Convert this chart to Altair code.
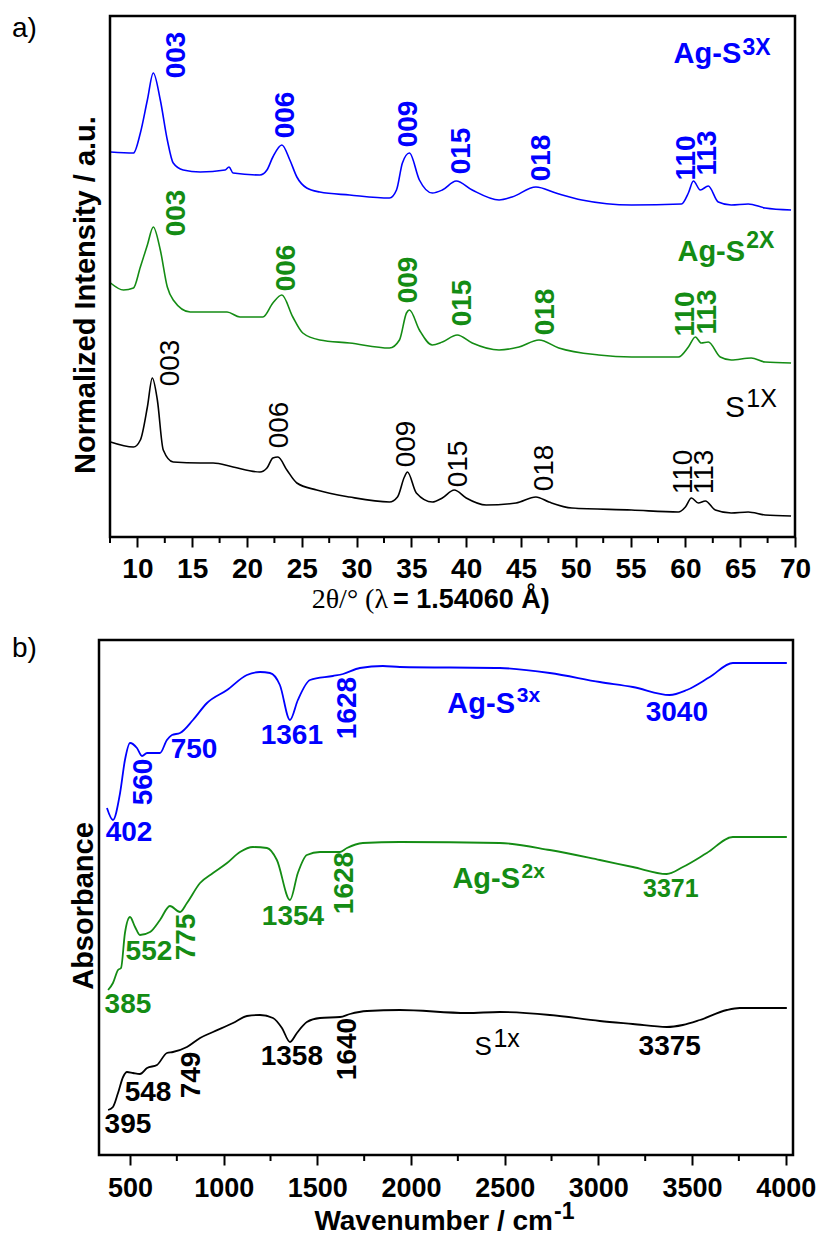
import altair as alt
import pandas as pd

# ---------------- colours / fonts ----------------
BLUE = "#0000ff"
GREEN = "#148c14"
BLACK = "#000000"
SANS = "Liberation Sans"
SERIF = "Liberation Serif"

# ---------------- panel a: XRD ----------------
XRD_MAJOR = [10, 15, 20, 25, 30, 35, 40, 45, 50, 55, 60, 65, 70]
XRD_MINOR = [7.5, 12.5, 17.5, 22.5, 27.5, 32.5, 37.5, 42.5, 47.5, 52.5, 57.5, 62.5, 67.5]

XRD_3X_2T = [7.55, 9.64, 10.27, 10.91, 11.45, 12.09, 12.73, 13.27, 14.18, 15.73, 18.0, 18.36, 18.73,
             21.18, 21.82, 22.36, 23.18, 23.91, 24.55, 25.45, 26.64, 29.36, 33.0, 33.64, 34.18, 34.82,
             35.73, 36.91, 37.82, 39.09, 40.55, 43.0, 44.18, 46.36, 48.18, 50.55, 55.09, 59.64, 60.27,
             60.73, 61.36, 62.09, 63.0, 64.18, 65.73, 67.27, 69.64]
XRD_3X_I = [385, 384, 404, 437, 464, 437, 397, 374, 367, 365, 367, 370, 364,
            362, 367, 380, 392, 377, 360, 349, 345, 342, 339, 347, 374, 384,
            357, 344, 347, 356, 347, 337, 340, 350, 344, 337, 332, 333, 344,
            356, 347, 351, 335, 332, 333, 329, 327]

XRD_2X_2T = [7.55, 8.73, 9.64, 10.27, 10.91, 11.45, 12.09, 12.73, 13.27, 14.82, 18.18, 19.36, 21.45,
             22.36, 23.18, 24.18, 25.09, 26.64, 29.36, 33.0, 33.91, 34.55, 34.82, 35.73, 36.91, 37.82,
             39.18, 40.55, 43.0, 44.82, 46.64, 48.45, 52.09, 55.09, 59.36, 60.27, 60.91, 61.45, 62.09,
             63.18, 64.18, 66.0, 67.27, 69.64]
XRD_2X_I = [254, 247, 249, 270, 292, 310, 287, 250, 237, 225, 225, 220, 220,
            234, 242, 220, 204, 197, 194, 189, 197, 224, 227, 207, 192, 195,
            202, 194, 187, 190, 197, 189, 182, 180, 180, 190, 200, 194, 195,
            180, 177, 179, 175, 174]

XRD_1X_2T = [7.55, 9.64, 10.27, 10.91, 11.36, 11.82, 12.36, 13.27, 15.73, 16.91, 18.73, 21.18, 21.82,
             22.36, 22.82, 23.64, 24.55, 26.36, 29.36, 33.0, 33.73, 34.36, 34.64, 35.45, 36.91, 37.82,
             38.91, 40.0, 41.82, 44.55, 46.36, 47.55, 49.64, 55.09, 59.36, 60.0, 60.55, 61.18, 61.82,
             62.73, 64.18, 65.73, 67.27, 69.64]
XRD_1X_I = [95, 90, 97, 130, 159, 137, 87, 75, 74, 74, 70, 65, 69,
            79, 80, 67, 54, 47, 40, 35, 40, 60, 65, 44, 35, 39,
            47, 39, 32, 34, 40, 35, 29, 27, 25, 30, 39, 34, 36,
            27, 24, 25, 22, 21]

HKL = ["003", "006", "009", "015", "018", "110", "113"]
HKL_3X_2T = [13.64, 23.55, 34.82, 39.64, 46.91, 60.18, 62.09]
HKL_3X_I = [482, 422, 413, 386, 379, 379, 384]
HKL_2X_2T = [13.64, 23.64, 34.82, 39.73, 47.27, 60.09, 62.09]
HKL_2X_I = [324, 269, 257, 234, 225, 223, 225]
HKL_1X_2T = [13.09, 23.0, 34.64, 39.36, 47.18, 59.91, 61.82]
HKL_1X_I = [174, 112, 93, 73, 69, 65, 65]

# sample names (main part, superscript)
XRD_NAME_MAIN = ["Ag-S", "Ag-S"]
XRD_NAME_MAIN_2T = [65.1, 65.45]
XRD_NAME_MAIN_I = [474, 276]
XRD_NAME_SUP = ["3X", "2X"]
XRD_NAME_SUP_2T = [65.2, 65.55]
XRD_NAME_SUP_I = [482, 289]
XRD_S1_MAIN, XRD_S1_MAIN_2T, XRD_S1_MAIN_I = "S", 65.45, 120
XRD_S1_SUP, XRD_S1_SUP_2T, XRD_S1_SUP_I = "1X", 65.55, 130

# ---------------- panel b: FTIR ----------------
FTIR_MAJOR = [500, 1000, 1500, 2000, 2500, 3000, 3500, 4000]
FTIR_MINOR = [750, 1250, 1750, 2250, 2750, 3250, 3750]

FTIR_3X_WN = [377, 409, 447, 473, 500, 537, 564, 591, 660, 697, 724, 767, 836, 911, 1018, 1124, 1194,
              1247, 1300, 1354, 1396, 1461, 1583, 1637, 1727, 1850, 1941, 2474, 2741, 3008, 3184,
              3381, 3472, 3595, 3718, 4006]
FTIR_3X_A = [347, 335, 362, 395, 412, 407, 399, 402, 402, 415, 420, 422, 435, 452, 465, 480, 483,
             482, 470, 435, 455, 475, 479, 481, 487, 489, 488, 487, 482, 473, 468,
             460, 465, 478, 492, 492]

FTIR_2X_WN = [383, 409, 436, 452, 473, 500, 527, 553, 607, 660, 713, 767, 804, 874, 943, 1018, 1087,
              1156, 1231, 1284, 1354, 1396, 1444, 1514, 1621, 1658, 1743, 1941, 2474, 2741, 3008,
              3184, 3365, 3451, 3579, 3718, 4006]
FTIR_2X_A = [165, 172, 185, 187, 222, 238, 228, 220, 223, 235, 249, 243, 252, 272, 282, 292, 303,
             308, 307, 295, 255, 282, 300, 303, 303, 307, 312, 313, 312, 305, 295,
             288, 281, 288, 302, 318, 318]

FTIR_1X_WN = [383, 409, 436, 463, 484, 516, 553, 591, 644, 697, 729, 804, 874, 943, 1050, 1124, 1194,
              1263, 1311, 1354, 1391, 1444, 1514, 1621, 1674, 1765, 1941, 2298, 2474, 2741, 3008,
              3184, 3365, 3451, 3542, 3686, 3755, 4006]
FTIR_1X_A = [45, 48, 62, 78, 83, 82, 81, 87, 90, 102, 103, 108, 117, 123, 132, 139, 140,
             137, 127, 113, 122, 133, 137, 138, 141, 144, 145, 142, 143, 140, 134,
             131, 128, 130, 135, 145, 147, 147]

BAND_TEXT = ["402", "560", "750", "1361", "1628", "3040",
             "385", "552", "775", "1354", "1628", "3371",
             "395", "548", "749", "1358", "1640", "3375"]
BAND_WN = [495, 575, 842, 1364, 1663, 3419,
           489, 601, 804, 1370, 1647, 3387,
           489, 596, 831, 1364, 1663, 3381]
BAND_A = [322, 373, 405, 419, 447, 442,
          150, 203, 218, 238, 272, 266,
          30, 62, 80, 98, 106, 108]
BAND_ANGLE = [0, 270, 0, 0, 270, 0,
              0, 0, 270, 0, 270, 0,
              0, 0, 270, 0, 270, 0]
BAND_SIZE = [28, 28, 28, 28, 28, 28,
             28, 28, 28, 28, 28, 25,
             28, 28, 28, 28, 28, 28]
BAND_COLOR = [BLUE] * 6 + [GREEN] * 6 + [BLACK] * 6

FTIR_NAME_MAIN = ["Ag-S", "Ag-S"]
FTIR_NAME_MAIN_WN = [2555, 2582]
FTIR_NAME_MAIN_A = [442, 267]
FTIR_NAME_SUP = ["3x", "2x"]
FTIR_NAME_SUP_WN = [2565, 2590]
FTIR_NAME_SUP_A = [453, 277]
FTIR_S1_MAIN, FTIR_S1_MAIN_WN, FTIR_S1_MAIN_A = "S", 2432, 100
FTIR_S1_SUP, FTIR_S1_SUP_WN, FTIR_S1_SUP_A = "1x", 2440, 108

# ---------------- geometry ----------------
WA, HA = 685, 521
WB, HB = 683, 515


def curves(names, xs_list, ys_list, colors):
    rows = []
    for n, xs, ys, c in zip(names, xs_list, ys_list, colors):
        for x, y in zip(xs, ys):
            rows.append({"series": n, "x": x, "y": y, "color": c})
    return pd.DataFrame(rows)


def table(texts, xs, ys, colors, **extra):
    d = {"text": texts, "x": xs, "y": ys, "color": colors}
    d.update(extra)
    return pd.DataFrame(d)


def make_x(domain, values, pad, fs):
    return alt.X("x:Q", scale=alt.Scale(domain=domain, nice=False, zero=False),
                 axis=alt.Axis(values=values, title=None, grid=False, domain=False,
                               tickSize=10, tickWidth=2, tickColor="black",
                               labelFont=SANS, labelFontSize=fs, labelFontWeight="bold",
                               labelColor="black", labelPadding=pad, labelFlush=False,
                               labelOverlap=False, format="d"))


def make_y(domain):
    return alt.Y("y:Q", scale=alt.Scale(domain=domain, nice=False, zero=False), axis=None)


label_y = {"a)": 21, "b)": 17}


def panel(xd, major, minor, pad, fs, yd, W, H, frame_x, line_df, line_w, text_layers,
          label, ytitle, ytitle_pos, xtitle_marks):
    X = make_x(xd, major, pad, fs)
    Y = make_y(yd)
    one = alt.Data(values=[{"k": 1}])
    layers = []
    layers.append(alt.Chart(line_df).mark_line(strokeWidth=line_w, interpolate="monotone").encode(
        x=X, y=Y, color=alt.Color("color:N", scale=None), detail="series:N"))
    layers.append(alt.Chart(pd.DataFrame({"x": minor})).mark_rule(color="black", strokeWidth=2).encode(
        x=X, y=alt.value(H), y2=alt.value(H + 6)))
    for df, kw, extra in text_layers:
        enc = dict(x=X, y=Y, text="text:N", color=alt.Color("color:N", scale=None))
        enc.update(extra)
        layers.append(alt.Chart(df).mark_text(**kw).encode(**enc))
    layers.append(alt.Chart(one).mark_rect(filled=False, color="black", strokeWidth=2.5).encode(
        x=alt.value(frame_x), x2=alt.value(W), y=alt.value(0), y2=alt.value(H)))
    layers.append(alt.Chart(one).mark_text(text=label, font=SANS, fontSize=28, align="left",
                                           baseline="alphabetic", color="black").encode(
        x=alt.value(-98), y=alt.value(label_y[label])))
    layers.append(alt.Chart(one).mark_text(text=ytitle, font=SANS, fontSize=29, fontWeight="bold",
                                           angle=270, align="center", baseline="middle",
                                           color="black").encode(
        x=alt.value(ytitle_pos[0]), y=alt.value(ytitle_pos[1])))
    for txt, kw, px, py in xtitle_marks:
        layers.append(alt.Chart(one).mark_text(text=txt, color="black", baseline="alphabetic", **kw).encode(
            x=alt.value(px), y=alt.value(py)))
    return alt.layer(*layers).properties(width=W, height=H)


# ----- panel a -----
xrd_lines = curves(["3X", "2X", "1X"], [XRD_3X_2T, XRD_2X_2T, XRD_1X_2T],
                   [XRD_3X_I, XRD_2X_I, XRD_1X_I], [BLUE, GREEN, BLACK])
hkl_bold = table(HKL + HKL, HKL_3X_2T + HKL_2X_2T, HKL_3X_I + HKL_2X_I, [BLUE] * 7 + [GREEN] * 7)
hkl_norm = table(HKL, HKL_1X_2T, HKL_1X_I, [BLACK] * 7)
xrd_main = table(XRD_NAME_MAIN, XRD_NAME_MAIN_2T, XRD_NAME_MAIN_I, [BLUE, GREEN])
xrd_sup = table(XRD_NAME_SUP, XRD_NAME_SUP_2T, XRD_NAME_SUP_I, [BLUE, GREEN])
xrd_s1m = table([XRD_S1_MAIN], [XRD_S1_MAIN_2T], [XRD_S1_MAIN_I], [BLACK])
xrd_s1s = table([XRD_S1_SUP], [XRD_S1_SUP_2T], [XRD_S1_SUP_I], [BLACK])

rot = dict(angle=270, align="center", baseline="middle", font=SANS, fontSize=28)
a_texts = [
    (hkl_bold, dict(rot, fontWeight="bold"), {}),
    (hkl_norm, dict(rot), {}),
    (xrd_main, dict(align="right", baseline="alphabetic", font=SANS, fontSize=29, fontWeight="bold"), {}),
    (xrd_sup, dict(align="left", baseline="alphabetic", font=SANS, fontSize=23, fontWeight="bold"), {}),
    (xrd_s1m, dict(align="right", baseline="alphabetic", font=SANS, fontSize=30), {}),
    (xrd_s1s, dict(align="left", baseline="alphabetic", font=SANS, fontSize=25), {}),
]
panel_a = panel([7.5, 70], XRD_MAJOR, XRD_MINOR, 8, 28, [0, HA], WA, HA, 0, xrd_lines, 1.6, a_texts,
                "a)", "Normalized Intensity / a.u.", (-24, 279),
                [("2θ/° (λ", dict(font=SERIF, fontSize=28, align="right"), 278, 592),
                 ("= 1.54060 Å)", dict(font=SANS, fontSize=27, fontWeight="bold", align="left"), 283, 592)])

# ----- panel b -----
ftir_lines = curves(["3X", "2X", "1X"], [FTIR_3X_WN, FTIR_2X_WN, FTIR_1X_WN],
                    [FTIR_3X_A, FTIR_2X_A, FTIR_1X_A], [BLUE, GREEN, BLACK])
bands = table(BAND_TEXT, BAND_WN, BAND_A, BAND_COLOR, ang=BAND_ANGLE, fs=BAND_SIZE)
ftir_main = table(FTIR_NAME_MAIN, FTIR_NAME_MAIN_WN, FTIR_NAME_MAIN_A, [BLUE, GREEN])
ftir_sup = table(FTIR_NAME_SUP, FTIR_NAME_SUP_WN, FTIR_NAME_SUP_A, [BLUE, GREEN])
ftir_s1m = table([FTIR_S1_MAIN], [FTIR_S1_MAIN_WN], [FTIR_S1_MAIN_A], [BLACK])
ftir_s1s = table([FTIR_S1_SUP], [FTIR_S1_SUP_WN], [FTIR_S1_SUP_A], [BLACK])
b_texts = [
    (bands, dict(align="center", baseline="middle", font=SANS, fontWeight="bold"),
     dict(angle=alt.Angle("ang:Q", scale=None), size=alt.Size("fs:Q", scale=None))),
    (ftir_main, dict(align="right", baseline="alphabetic", font=SANS, fontSize=29, fontWeight="bold"), {}),
    (ftir_sup, dict(align="left", baseline="alphabetic", font=SANS, fontSize=21, fontWeight="bold"), {}),
    (ftir_s1m, dict(align="right", baseline="alphabetic", font=SANS, fontSize=26), {}),
    (ftir_s1s, dict(align="left", baseline="alphabetic", font=SANS, fontSize=25), {}),
]
panel_b = panel([393.2, 4039], FTIR_MAJOR, FTIR_MINOR, 10, 27, [0, HB], WB, HB, -11, ftir_lines, 1.8, b_texts,
                "b)", "Absorbance", (-26, 266),
                [("Wavenumber / cm", dict(font=SANS, fontSize=28, fontWeight="bold", align="right"), 443, 590),
                 ("-1", dict(font=SANS, fontSize=23, fontWeight="bold", align="left"), 444, 579)])

chart = alt.vconcat(panel_a, panel_b, spacing=21).properties(
    autosize=alt.AutoSizeParams(type="none"),
    padding={"left": 110, "top": 16, "right": 709, "bottom": 1219},
    background="white",
).configure_view(strokeWidth=0)

chart.save("out.html", embed_options={"renderer": "svg", "actions": False})
